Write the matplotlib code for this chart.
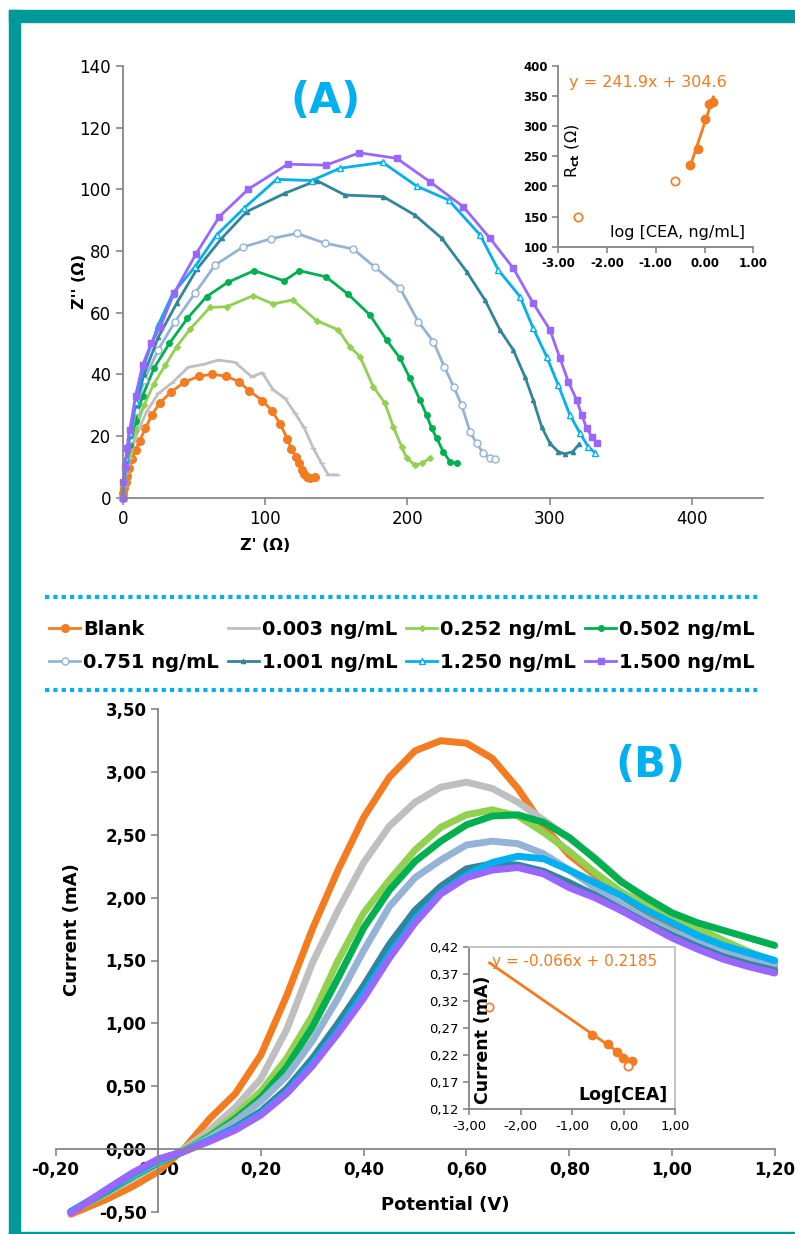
import matplotlib.pyplot as plt
from matplotlib.ticker import FuncFormatter
from matplotlib.lines import Line2D
from matplotlib.patches import Rectangle

plt.rcParams['font.family'] = ['DejaVu Sans']

labels = ['Blank', '0.003 ng/mL', '0.252 ng/mL', '0.502 ng/mL',
          '0.751 ng/mL', '1.001 ng/mL', '1.250 ng/mL', '1.500 ng/mL']
colors = ['#F47B20', '#BFBFBF', '#92D050', '#00B050',
          '#95B3D7', '#31859C', '#00B0F0', '#9966FF']

# ---- EIS (Nyquist) data: Z' and Z'' in ohm ----
zre_blank = [0, 0.5, 1, 2, 3, 4.5, 6.5, 9, 12, 16, 20.4, 26.2, 33.9, 43.1, 53.6, 63.0, 72.6, 81.7,
             88.8, 98.1, 104.9, 110.8, 115.7, 118.5, 121.8, 124.1, 126.0, 127.4, 129.3, 131.6, 135.1]
zim_blank = [0, 1.5, 3, 5, 7, 9.5, 12.5, 15.5, 18.5, 22.5, 26.8, 30.8, 34.2, 37.4, 39.4, 40.0, 39.4, 37.6,
             34.7, 31.5, 28.2, 23.8, 19.1, 15.9, 13.3, 11.1, 9.0, 7.7, 6.8, 6.3, 6.7]
zre_003 = [0, 1, 2.5, 5, 8, 12, 17, 25.0, 34.4, 46.1, 56.7, 67.2, 78.9, 90.6, 98.1, 105.9, 114.1,
           121.1, 127.4, 134.0, 139.8, 144.5, 150.8]
zim_003 = [0, 4, 8, 13, 18, 23, 28, 33.8, 37.1, 42.3, 43.2, 44.6, 43.9, 39.2, 40.5, 34.9, 32.2,
           27.4, 22.8, 16.0, 11.1, 7.4, 7.4]
zre_252 = [0, 1, 2.5, 5, 9, 15, 22, 30, 38, 47.3, 61.3, 73.1, 91.8, 105.8, 119.5, 136.3, 151.5,
           159.7, 166.8, 176.1, 184.3, 190.2, 196.0, 199.6, 205.4, 210.1, 216.0]
zim_252 = [0, 4, 9, 15, 22, 30, 37, 43, 49, 54.6, 61.7, 61.9, 65.5, 62.8, 64.1, 57.4, 54.4,
           48.9, 45.7, 36.0, 30.6, 23.0, 16.5, 12.8, 10.6, 11.1, 12.8]
zre_502 = [0, 1, 2.5, 5, 9, 14, 22, 32.8, 45.4, 59.0, 73.8, 92.3, 113.4, 124.1, 142.9, 158.6, 173.8,
           185.5, 194.9, 201.9, 208.9, 213.6, 217.1, 220.7, 225.3, 230.0, 234.7]
zim_502 = [0, 5, 10, 17, 25, 33, 42, 50.0, 58.1, 65.2, 69.8, 73.6, 70.3, 73.6, 71.6, 65.9, 59.2,
           51.1, 45.2, 38.7, 31.7, 26.8, 22.5, 19.3, 14.9, 11.7, 11.1]
zre_751 = [0, 1, 2.5, 5, 9, 15, 25, 36.8, 50.8, 64.9, 84.3, 104.0, 122.3, 142.2, 162.1, 177.3, 194.9,
           207.7, 218.3, 226.0, 232.8, 238.2, 244.1, 248.8, 253.4, 258.1, 261.6]
zim_751 = [0, 5, 11, 19, 28, 38, 48, 57.1, 66.3, 75.4, 81.2, 83.9, 85.7, 82.5, 80.6, 74.7, 67.9,
           57.1, 50.6, 42.5, 35.8, 30.0, 21.4, 17.6, 14.4, 12.8, 12.4]
zre_1001 = [0, 1, 2.5, 5, 9, 15, 25, 37.9, 52.0, 69.6, 87.1, 114.1, 136.3, 156.2, 183.1, 205.4, 224.2,
            241.7, 254.6, 265.1, 274.5, 282.7, 288.5, 294.4, 300.3, 306.1, 310.8, 316.2, 320.9]
zim_1001 = [0, 6, 12, 20, 30, 40, 52, 63.0, 74.0, 84.1, 92.7, 98.7, 102.8, 98.1, 97.6, 91.6, 84.1,
            73.3, 64.1, 54.4, 47.9, 39.2, 31.7, 23.0, 17.6, 14.9, 14.2, 14.9, 17.4]
zre_1250 = [0, 1, 2.5, 5, 9, 15, 25, 35, 50.8, 66.1, 85.2, 108.2, 132.8, 152.7, 182.7, 206.6, 229.0,
            251.1, 264.0, 279.2, 288.5, 298.0, 306.1, 314.3, 321.4, 327.2, 331.9]
zim_1250 = [0, 6, 13, 21, 31, 43, 56, 66, 74.9, 85.2, 93.8, 103.2, 102.8, 106.8, 108.7, 101.0, 96.5,
            85.2, 73.8, 65.2, 54.9, 45.7, 36.5, 26.8, 20.9, 16.5, 14.6]
zre_1500 = [0, 0.5, 1.5, 3, 5, 9, 14, 20, 26.2, 36.1, 51.5, 67.9, 88.3, 116.0, 142.9, 166.3, 192.6,
            216.0, 239.4, 258.1, 274.5, 288.5, 300.3, 307.3, 313.2, 319.0, 322.6, 326.1, 329.6, 333.1]
zim_1500 = [0, 5, 10, 16, 22, 33, 43, 50, 55.2, 66.3, 79.0, 91.1, 100.0, 108.1, 107.8, 111.8, 110.0,
            102.4, 94.3, 84.1, 74.4, 63.0, 54.4, 45.2, 37.6, 31.7, 26.8, 22.5, 19.8, 17.6]

# Rct calibration (inset A)
log_cea_rct = [-0.30, -0.13, 0.01, 0.10, 0.18]
rct = [236, 262, 312, 336, 340]
log_cea_rct_out = [-2.60, -0.60]
rct_out = [150, 209]
rct_slope, rct_intercept = 241.9, 304.6

# ---- DPV data: potential (V) and current (mA) ----
potential = [-0.17, -0.10, -0.05, 0.00, 0.05, 0.10, 0.15, 0.20, 0.25, 0.30, 0.35, 0.40, 0.45, 0.50,
             0.55, 0.60, 0.65, 0.70, 0.75, 0.80, 0.85, 0.90, 0.95, 1.00, 1.05, 1.10, 1.15, 1.20]
i_blank = [-0.52, -0.40, -0.30, -0.18, 0.00, 0.24, 0.44, 0.75, 1.22, 1.75, 2.22, 2.64, 2.96, 3.17,
           3.25, 3.23, 3.11, 2.87, 2.57, 2.34, 2.18, 2.02, 1.88, 1.76, 1.66, 1.58, 1.51, 1.45]
i_003 = [-0.50, -0.35, -0.24, -0.12, 0.00, 0.15, 0.33, 0.56, 0.95, 1.48, 1.90, 2.28, 2.57, 2.76,
         2.88, 2.92, 2.87, 2.76, 2.62, 2.47, 2.32, 2.14, 1.98, 1.85, 1.73, 1.64, 1.56, 1.50]
i_252 = [-0.50, -0.34, -0.22, -0.11, -0.01, 0.11, 0.27, 0.46, 0.72, 1.06, 1.50, 1.88, 2.14, 2.38,
         2.56, 2.66, 2.70, 2.65, 2.52, 2.37, 2.20, 2.05, 1.94, 1.85, 1.76, 1.66, 1.57, 1.49]
i_502 = [-0.50, -0.34, -0.22, -0.11, -0.02, 0.10, 0.24, 0.41, 0.65, 0.97, 1.36, 1.76, 2.06, 2.29,
         2.45, 2.58, 2.65, 2.66, 2.60, 2.48, 2.31, 2.13, 2.00, 1.88, 1.80, 1.74, 1.68, 1.62]
i_751 = [-0.50, -0.33, -0.21, -0.10, -0.02, 0.09, 0.22, 0.38, 0.58, 0.86, 1.20, 1.58, 1.93, 2.16,
         2.30, 2.42, 2.45, 2.43, 2.35, 2.22, 2.08, 1.95, 1.83, 1.73, 1.65, 1.58, 1.52, 1.47]
i_1001 = [-0.50, -0.33, -0.20, -0.09, -0.02, 0.07, 0.17, 0.30, 0.48, 0.72, 1.00, 1.30, 1.63, 1.90,
          2.09, 2.23, 2.27, 2.26, 2.21, 2.12, 2.02, 1.91, 1.80, 1.70, 1.61, 1.53, 1.47, 1.42]
i_1250 = [-0.50, -0.33, -0.20, -0.09, -0.02, 0.07, 0.16, 0.28, 0.45, 0.68, 0.94, 1.24, 1.55, 1.83,
          2.04, 2.18, 2.28, 2.33, 2.31, 2.22, 2.12, 2.02, 1.90, 1.80, 1.70, 1.62, 1.56, 1.50]
i_1500 = [-0.51, -0.32, -0.19, -0.08, -0.02, 0.06, 0.15, 0.27, 0.44, 0.66, 0.92, 1.20, 1.52, 1.80,
          2.03, 2.16, 2.22, 2.24, 2.19, 2.08, 2.00, 1.90, 1.79, 1.68, 1.59, 1.51, 1.45, 1.40]

# peak current calibration (inset B)
log_cea_ip = [-0.61, -0.30, -0.125, -0.01, 0.17]
ip = [0.257, 0.240, 0.225, 0.215, 0.209]
log_cea_ip_out = [-2.61, 0.09]
ip_out = [0.309, 0.200]
ip_slope, ip_intercept = -0.066, 0.2185
ip_fit_range = [-2.60, 0.18]

W, H = 795, 1234
TEAL = '#009999'
AXIS_GREY = '#868686'
TITLE_BLUE = '#00B0F0'


def px_box(left, top, right, bottom):
    return [left / W, 1 - bottom / H, (right - left) / W, (bottom - top) / H]


def fx(x):
    return x / W


def fy(y):
    return 1 - y / H


def comma_fmt(v, pos):
    return ('%.2f' % v).replace('.', ',')


def style_axis(ax, spines=('left', 'bottom')):
    for side in ('left', 'right', 'top', 'bottom'):
        ax.spines[side].set_visible(side in spines)
        ax.spines[side].set_color(AXIS_GREY)
        ax.spines[side].set_linewidth(1.3)
    ax.tick_params(direction='out', color=AXIS_GREY, width=1.2, length=5)


fig = plt.figure(figsize=(W / 100, H / 100), dpi=100)

# teal page frame
fig.patches.append(Rectangle((fx(9), fy(22)), 1 - fx(9), fy(10) - fy(22), transform=fig.transFigure,
                             color=TEAL, zorder=0))
fig.patches.append(Rectangle((fx(9), 0), fx(20) - fx(9), fy(10), transform=fig.transFigure,
                             color=TEAL, zorder=0))
fig.patches.append(Rectangle((fx(9), 0), 1 - fx(9), 2 / H, transform=fig.transFigure,
                             color=TEAL, zorder=0))

# ---------------- (A) Nyquist plot ----------------
ax_a = fig.add_axes(px_box(122.7, 65.8, 763, 497.7))
nyquist = [(zre_blank, zim_blank, dict(marker='o', ms=5.5)),
           (zre_003, zim_003, dict(marker='_', ms=4)),
           (zre_252, zim_252, dict(marker='D', ms=3)),
           (zre_502, zim_502, dict(marker='o', ms=4)),
           (zre_751, zim_751, dict(marker='o', ms=5, mfc='white')),
           (zre_1001, zim_1001, dict(marker='^', ms=3)),
           (zre_1250, zim_1250, dict(marker='^', ms=5, mfc='white')),
           (zre_1500, zim_1500, dict(marker='s', ms=5))]
handles = []
for (zr, zi, mk), lab, col in zip(nyquist, labels, colors):
    ln, = ax_a.plot(zr, zi, color=col, lw=2, label=lab, clip_on=False, **mk)
    handles.append(ln)
ax_a.set_xlim(0, 450)
ax_a.set_ylim(0, 140)
ax_a.set_xticks([0, 100, 200, 300, 400])
ax_a.set_yticks(range(0, 141, 20))
style_axis(ax_a)
ax_a.tick_params(labelsize=12)
fig.text(fx(265), fy(545), "Z' (Ω)", ha='center', va='center', fontsize=11.5, fontweight='bold')
fig.text(fx(80), fy(281), "Z'' (Ω)", ha='center', va='center', fontsize=11.5, fontweight='bold',
         rotation=90)
fig.text(fx(326), fy(101), '(A)', ha='center', va='center', fontsize=30, fontweight='bold',
         color=TITLE_BLUE)

# inset: Rct vs log[CEA]
ax_ia = fig.add_axes(px_box(558.3, 65.7, 753.3, 246.7))
style_axis(ax_ia)
ax_ia.plot(log_cea_rct_out, rct_out, 'o', color=colors[0], mfc='white', ms=6, mew=1.2)
fit_x = [min(log_cea_rct), max(log_cea_rct)]
ax_ia.plot(fit_x, [rct_slope * x + rct_intercept for x in fit_x], color=colors[0], lw=2)
ax_ia.plot(log_cea_rct, rct, 'o', color=colors[0], ms=6)
ax_ia.set_xlim(-3, 1)
ax_ia.set_ylim(100, 400)
ax_ia.set_xticks([-3, -2, -1, 0, 1])
ax_ia.set_yticks(range(100, 401, 50))
ax_ia.xaxis.set_major_formatter(FuncFormatter(lambda v, p: '%.2f' % v))
ax_ia.tick_params(labelsize=8.5, length=4)
for t in ax_ia.get_xticklabels() + ax_ia.get_yticklabels():
    t.set_fontweight('bold')
ax_ia.text(0.055, 0.905, 'y = %.1fx + %.1f' % (rct_slope, rct_intercept), transform=ax_ia.transAxes,
           ha='left', va='center', fontsize=11.5, color=colors[0])
ax_ia.text(0.075, 0.53, r'R$_{\mathbf{ct}}$ (Ω)', transform=ax_ia.transAxes, ha='center',
           va='center', fontsize=11.5, rotation=90)
ax_ia.text(0.96, 0.08, 'log [CEA, ng/mL]', transform=ax_ia.transAxes, ha='right', va='center',
           fontsize=11.5)

# ---------------- shared legend ----------------
order = [0, 4, 1, 5, 2, 6, 3, 7]
fig.legend([handles[i] for i in order], [labels[i] for i in order], loc='center',
           bbox_to_anchor=(fx(402), fy(646)), ncol=4, frameon=False,
           prop=dict(size=14, weight='bold'), handlelength=1.6, handletextpad=0.15,
           columnspacing=0.45, labelspacing=0.75, borderpad=0)
for yy in (597, 690):
    fig.add_artist(Line2D([fx(45), fx(757)], [fy(yy), fy(yy)], transform=fig.transFigure,
                          color=TITLE_BLUE, lw=3, linestyle=(0, (1, 1))))

# ---------------- (B) DPV ----------------
ax_b = fig.add_axes(px_box(55.5, 709.3, 774.7, 1211.7))
for cur, col in zip([i_blank, i_003, i_252, i_502, i_751, i_1001, i_1250, i_1500], colors):
    ax_b.plot(potential, cur, color=col, lw=5, solid_capstyle='round', solid_joinstyle='round',
              clip_on=False)
ax_b.set_xlim(-0.2, 1.2)
ax_b.set_ylim(-0.5, 3.5)
style_axis(ax_b)
ax_b.spines['left'].set_position(('data', 0))
ax_b.spines['bottom'].set_position(('data', 0))
ax_b.set_xticks([-0.2, 0, 0.2, 0.4, 0.6, 0.8, 1.0, 1.2])
ax_b.set_yticks([-0.5, 0, 0.5, 1.0, 1.5, 2.0, 2.5, 3.0, 3.5])
ax_b.xaxis.set_major_formatter(FuncFormatter(comma_fmt))
ax_b.yaxis.set_major_formatter(FuncFormatter(comma_fmt))
ax_b.tick_params(labelsize=12)
for t in ax_b.get_xticklabels() + ax_b.get_yticklabels():
    t.set_fontweight('bold')
fig.text(fx(445), fy(1205), 'Potential (V)', ha='center', va='center', fontsize=13,
         fontweight='bold')
fig.text(fx(72), fy(930), 'Current (mA)', ha='center', va='center', fontsize=13,
         fontweight='bold', rotation=90)
fig.text(fx(650), fy(765), '(B)', ha='center', va='center', fontsize=30, fontweight='bold',
         color=TITLE_BLUE)

# inset: peak current vs log[CEA]
ax_ib = fig.add_axes(px_box(469, 946.7, 675.3, 1109.3))
style_axis(ax_ib, spines=('left', 'bottom', 'top', 'right'))
ax_ib.spines['top'].set_color('#BFBFBF')
ax_ib.spines['right'].set_color('#BFBFBF')
ax_ib.plot(ip_fit_range, [ip_slope * x + ip_intercept for x in ip_fit_range], color=colors[0], lw=2)
ax_ib.plot(log_cea_ip, ip, 'o', color=colors[0], ms=6)
ax_ib.plot(log_cea_ip_out, ip_out, 'o', color=colors[0], mfc='white', ms=6, mew=1.2)
ax_ib.set_xlim(-3, 1)
ax_ib.set_ylim(0.12, 0.42)
ax_ib.set_xticks([-3, -2, -1, 0, 1])
ax_ib.set_yticks([0.12, 0.17, 0.22, 0.27, 0.32, 0.37, 0.42])
ax_ib.xaxis.set_major_formatter(FuncFormatter(comma_fmt))
ax_ib.yaxis.set_major_formatter(FuncFormatter(comma_fmt))
ax_ib.tick_params(labelsize=9.5, length=4)
ax_ib.text(0.11, 0.91, 'y = %.3fx + %.4f' % (ip_slope, ip_intercept), transform=ax_ib.transAxes,
           ha='left', va='center', fontsize=11, color=colors[0])
ax_ib.text(0.07, 0.43, 'Current (mA)', transform=ax_ib.transAxes, ha='center', va='center',
           fontsize=12.5, fontweight='bold', rotation=90)
ax_ib.text(0.965, 0.09, 'Log[CEA]', transform=ax_ib.transAxes, ha='right', va='center',
           fontsize=12.5, fontweight='bold')

fig.savefig('out.png', dpi=100)
